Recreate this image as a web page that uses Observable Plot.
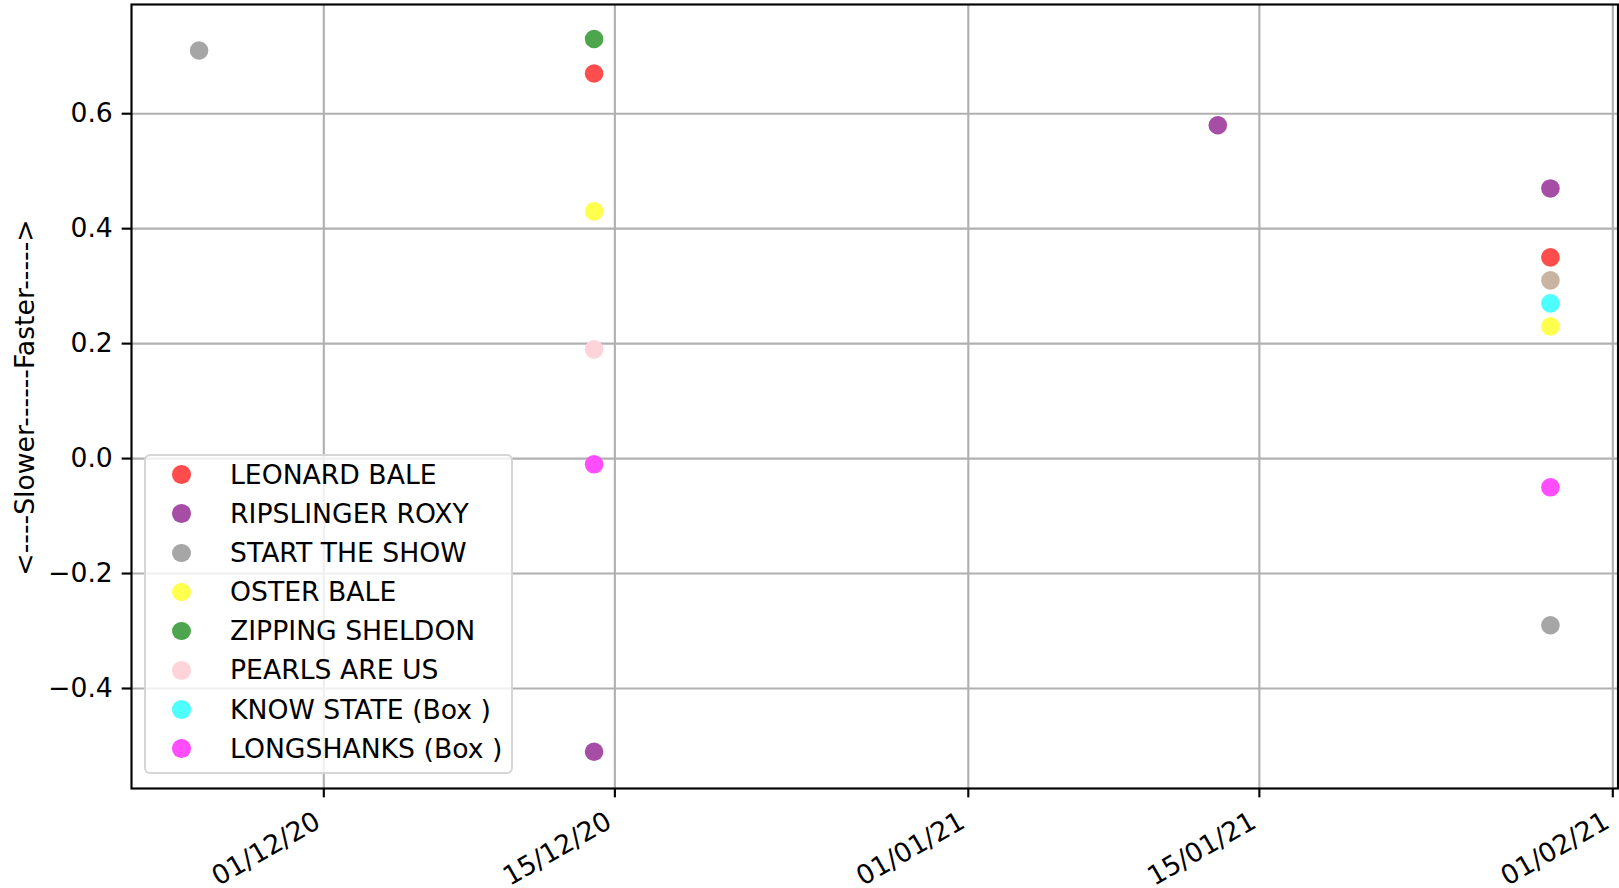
<!DOCTYPE html>
<html>
<head>
<meta charset="utf-8">
<script src="https://cdn.jsdelivr.net/npm/d3@7"></script>
<script src="https://cdn.jsdelivr.net/npm/@observablehq/plot@0.6"></script>
<style>
html, body { margin: 0; padding: 0; background: #fff; }
#wrap { position: relative; width: 1619px; height: 888px; font-family: "DejaVu Sans", sans-serif; }
#legend { position: absolute; left: 144px; top: 454px; width: 369px; height: 320px; box-sizing: border-box;
  background: rgba(255,255,255,0.8); border: 2px solid rgba(204,204,204,0.8); border-radius: 6px; }
.sw { position: absolute; width: 18.7px; height: 18.7px; border-radius: 50%; }
.lb { position: absolute; font-size: 26.67px; line-height: 26.67px; white-space: nowrap; color: #000; }
</style>
</head>
<body>
<div id="wrap"></div>
<script>
// ---- data ----
const horses = ["LEONARD BALE", "RIPSLINGER ROXY", "START THE SHOW", "OSTER BALE",
  "ZIPPING SHELDON", "PEARLS ARE US", "KNOW STATE (Box )", "LONGSHANKS (Box )"];
const horseColors = ["#ff4d4d", "#a64da6", "#a6a6a6", "#ffff4d", "#4da64d", "#ffd3da", "#4dffff", "#ff4dff"];
const unlistedHorse = "UNLISTED";
const unlistedColor = "#c8b4a0";

const pointDates = ["2020-11-25",
  "2020-12-14", "2020-12-14", "2020-12-14", "2020-12-14", "2020-12-14", "2020-12-14",
  "2021-01-13",
  "2021-01-29", "2021-01-29", "2021-01-29", "2021-01-29", "2021-01-29", "2021-01-29", "2021-01-29"];
const pointHorses = ["START THE SHOW",
  "ZIPPING SHELDON", "LEONARD BALE", "OSTER BALE", "PEARLS ARE US", "LONGSHANKS (Box )", "RIPSLINGER ROXY",
  "RIPSLINGER ROXY",
  "RIPSLINGER ROXY", "LEONARD BALE", "UNLISTED", "KNOW STATE (Box )", "OSTER BALE", "LONGSHANKS (Box )", "START THE SHOW"];
const pointValues = [0.71,
  0.73, 0.67, 0.43, 0.19, -0.01, -0.51,
  0.58,
  0.47, 0.35, 0.31, 0.27, 0.23, -0.05, -0.29];

const xTickDates = ["2020-12-01", "2020-12-15", "2021-01-01", "2021-01-15", "2021-02-01"];
const yTickValues = [-0.4, -0.2, 0.0, 0.2, 0.4, 0.6];
const yLabel = "<----Slower------Faster----->";

// ---- build ----
const points = pointDates.map((d, i) => ({date: new Date(d), horse: pointHorses[i], value: pointValues[i]}));
const xTicks = xTickDates.map(d => new Date(d));
const fmtDate = d3.utcFormat("%d/%m/%y");
const fmtY = d3.format(".1f");
const FS = 26.67;

const chart = Plot.plot({
  width: 1619,
  height: 888,
  marginLeft: 131,
  marginRight: 1.5,
  marginTop: 4,
  marginBottom: 100,
  style: {fontFamily: "DejaVu Sans, sans-serif", color: "black", background: "white", overflow: "visible"},
  x: {type: "utc", domain: [new Date("2020-11-21T18:00:00Z"), new Date("2021-02-01T06:00:00Z")], label: null},
  y: {domain: [-0.574, 0.79], label: null},
  color: {type: "ordinal", domain: [...horses, unlistedHorse], range: [...horseColors, unlistedColor]},
  marks: [
    Plot.gridX({ticks: xTicks, stroke: "#b0b0b0", strokeOpacity: 1, strokeWidth: 2.13}),
    Plot.gridY({ticks: yTickValues, stroke: "#b0b0b0", strokeOpacity: 1, strokeWidth: 2.13}),
    Plot.dot(points, {x: "date", y: "value", fill: "horse", r: 9.3}),
    Plot.frame({stroke: "black", strokeWidth: 2.13}),
    Plot.axisY({ticks: yTickValues, tickSize: 9.33, tickPadding: 9.33, strokeWidth: 2.13,
      tickFormat: d => fmtY(d), fontSize: FS, label: null}),
    Plot.axisX({ticks: xTicks, tickSize: 9.33, strokeWidth: 2.13, tickFormat: () => "", label: null}),
    Plot.text(xTicks, {x: d => d, text: d => fmtDate(d), frameAnchor: "bottom", rotate: -30,
      textAnchor: "end", lineAnchor: "top", dx: -11, dy: 21.5, fontSize: FS, fill: "black"}),
    Plot.text([yLabel], {text: d => d, frameAnchor: "left", rotate: -90, textAnchor: "middle",
      lineAnchor: "bottom", dx: -98, dy: 1, fontSize: FS, fill: "black"})
  ]
});

const wrap = document.getElementById("wrap");
wrap.appendChild(chart);

// legend overlay (inside the axes, lower-left)
const legend = document.createElement("div");
legend.id = "legend";
horses.forEach((name, i) => {
  const cy = 18.7 + 39.1 * i;
  const sw = document.createElement("span");
  sw.className = "sw";
  sw.style.left = (35.7 - 9.35) + "px";
  sw.style.top = (cy - 9.35) + "px";
  sw.style.background = horseColors[i];
  legend.appendChild(sw);
  const lb = document.createElement("span");
  lb.className = "lb";
  lb.style.left = "84px";
  lb.style.top = (cy - 12.8) + "px";
  lb.textContent = name;
  legend.appendChild(lb);
});
wrap.appendChild(legend);
</script>
</body>
</html>
